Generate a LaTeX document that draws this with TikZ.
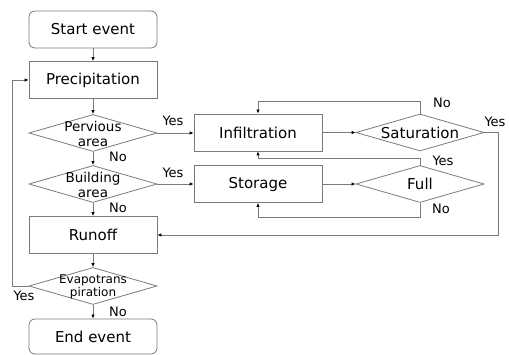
\documentclass[tikz,border=0pt]{standalone}
\usepackage{fontspec}
\setmainfont{DejaVu Sans}
\usetikzlibrary{shapes.geometric,arrows.meta}
\definecolor{ln}{HTML}{7A7A7A}
\begin{document}
\begin{tikzpicture}[x=1pt,y=-1pt,
  box/.style={draw=ln,line width=0.8pt,minimum width=128pt,minimum height=37pt,inner sep=0pt,font=\fontsize{15}{17}\selectfont},
  rbox/.style={box,rounded corners=6pt},
  dia/.style={draw=ln,line width=0.8pt,diamond,minimum width=128pt,minimum height=37pt,inner sep=0pt},
  dtext/.style={align=center,inner sep=0pt,font=\fontsize{13.5}{15}\selectfont},
  lab/.style={inner sep=0pt,font=\fontsize{13}{15}\selectfont},
  arr/.style={draw=ln,line width=0.8pt,-{Latex[length=4pt,width=3.5pt,fill=black,color=black]}}]
\useasboundingbox (0,0) rectangle (509,355);
\node[rbox] (start) at (93,29.5) {Start event};
\node[box] (prec) at (93,80) {Precipitation};
\node[dia] (perv) at (93,133) {};
\node[dtext] (pervt) at (93,133.5) {Pervious\\area};
\node[dia] (bld) at (93,184) {};
\node[dtext] (bldt) at (93,184.5) {Building\\area};
\node[box] (run) at (93,235) {Runoff};
\node[dia] (evap) at (93,286) {};
\node[dtext,font=\fontsize{12}{13}\selectfont] (evapt) at (93,286.5) {Evapotrans\\piration};
\node[rbox,minimum height=35pt] (end) at (93,336.5) {End event};
\node[box] (inf) at (258,132.5) {Infiltration};
\node[dia] (sat) at (420,132.5) {};
\node[inner sep=0pt,font=\fontsize{15}{17}\selectfont] (satt) at (420,132.5) {Saturation};
\node[box] (sto) at (258,184) {Storage};
\node[dia] (full) at (420,184) {};
\node[inner sep=0pt,font=\fontsize{15}{17}\selectfont] (fullt) at (420,184) {Full};
% vertical chain
\draw[arr] (start) -- (prec);
\draw[arr] (prec) -- (perv);
\draw[arr] (perv) -- (bld);
\draw[arr] (bld) -- (run);
\draw[arr] (run) -- (evap);
\draw[arr] (evap) -- (end);
% horizontal
\draw[arr] (perv.east) -- (inf.west |- perv.east);
\draw[arr] (bld.east) -- (sto.west);
\draw[arr] (inf) -- (sat);
\draw[arr] (sto) -- (full);
% loops
\draw[arr] (sat.north) -- ++(0,-12) -| (inf.north);
\draw[arr] (sat.east) -- ++(14,0) |- (run.east);
\draw[arr] (full.north) -- ++(0,-7) -| (inf.south);
\draw[arr] (full.south) -- ++(0,15) -| (sto.south);
\draw[arr] (evap.west) -- ++(-16,0) |- (prec.west);
% labels
\node[lab] (l1) at (173,121) {Yes};
\node[lab] (l2) at (118,157) {No};
\node[lab] (l3) at (173,173) {Yes};
\node[lab] (l4) at (118,208) {No};
\node[lab] (l5) at (118,312) {No};
\node[lab] (l6) at (24,296) {Yes};
\node[lab] (l7) at (442,103) {No};
\node[lab] (l8) at (495,122) {Yes};
\node[lab] (l9) at (443,161) {Yes};
\node[lab] (l10) at (441,209) {No};
\end{tikzpicture}
\end{document}
